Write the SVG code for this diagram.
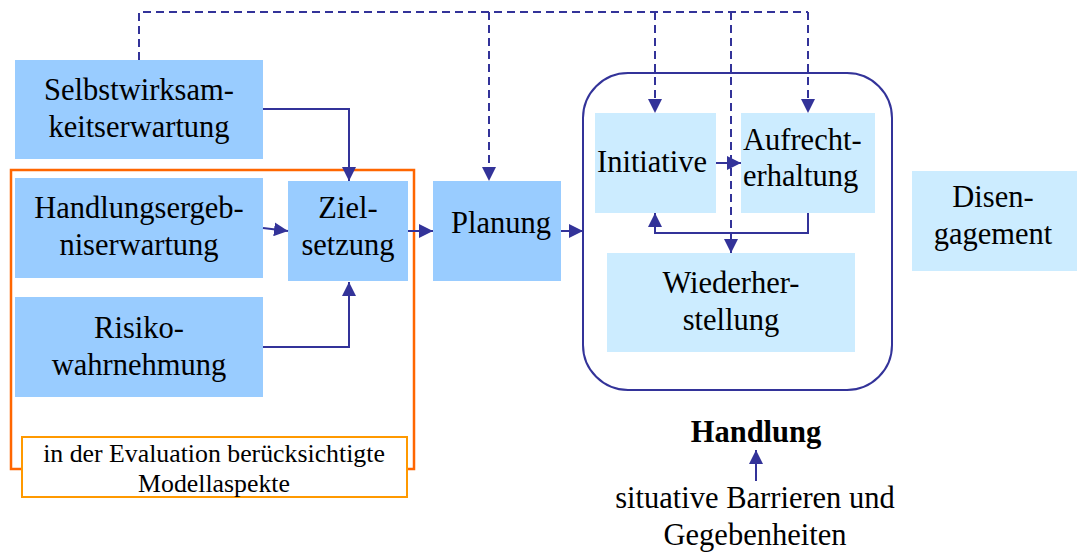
<svg xmlns="http://www.w3.org/2000/svg" width="1077" height="553" viewBox="0 0 1077 553" font-family="'Liberation Serif', 'Times New Roman', Times, 'DejaVu Serif', serif">
<style>
text{font-family:'Liberation Serif','Times New Roman',Times,'DejaVu Serif',serif}
.t{font-size:30.5px;fill:#000}
.c{text-anchor:middle}
.dark{fill:#99CCFF}
.light{fill:#CCECFF}
.ln{fill:none;stroke:#333399;stroke-width:2}
.dash{fill:none;stroke:#333399;stroke-width:2;stroke-dasharray:8,5}
</style>
<defs>
<marker id="ah" viewBox="0 0 10 10" refX="10" refY="5" markerWidth="14" markerHeight="14" markerUnits="userSpaceOnUse" orient="auto">
<path d="M0,0 L10,5 L0,10 Z" fill="#333399"/>
</marker>
</defs>
<rect width="1077" height="553" fill="#fff"/>

<g id="evaluation">
<rect x="11" y="170" width="403" height="299" fill="none" stroke="#FF6600" stroke-width="2.5"/>
</g>

<g id="selbstwirksamkeit">
<rect class="dark" x="15" y="60" width="248" height="99"/>
<text class="t c" x="139" y="100">Selbstwirksam-</text>
<text class="t c" x="139" y="137">keitserwartung</text>
</g>
<g id="handlungsergebnis">
<rect class="dark" x="15" y="178" width="248" height="100"/>
<text class="t c" x="139" y="218">Handlungsergeb-</text>
<text class="t c" x="139" y="255">niserwartung</text>
</g>
<g id="risiko">
<rect class="dark" x="15" y="297" width="248" height="100"/>
<text class="t c" x="139" y="338">Risiko-</text>
<text class="t c" x="139" y="375">wahrnehmung</text>
</g>
<g id="zielsetzung">
<rect class="dark" x="288" y="181" width="120" height="100"/>
<text class="t c" x="348" y="218">Ziel-</text>
<text class="t c" x="348" y="255">setzung</text>
</g>
<g id="planung">
<rect class="dark" x="433" y="181" width="128" height="100"/>
<text class="t c" x="501" y="233">Planung</text>
</g>

<g id="handlung">
<rect x="583" y="73" width="309" height="317" rx="45" ry="45" fill="none" stroke="#333399" stroke-width="2"/>
</g>
<g id="initiative">
<rect class="light" x="595" y="113" width="121" height="100"/>
<text class="t" x="597" y="172">Initiative</text>
</g>
<g id="aufrechterhaltung">
<rect class="light" x="741" y="113" width="134" height="100"/>
<text class="t" x="743" y="150">Aufrecht-</text>
<text class="t" x="743" y="186">erhaltung</text>
</g>
<g id="wiederherstellung">
<rect class="light" x="607" y="253" width="248" height="99"/>
<text class="t c" x="731" y="293">Wiederher-</text>
<text class="t c" x="731" y="330">stellung</text>
</g>
<g id="disengagement">
<rect class="light" x="912" y="171" width="165" height="100"/>
<text class="t c" x="993" y="207">Disen-</text>
<text class="t c" x="993" y="244">gagement</text>
</g>

<g id="label-evaluation">
<rect x="22" y="437" width="385" height="60" fill="#fff" stroke="#FF9900" stroke-width="2"/>
<text class="t c" x="214" y="462" style="font-size:25.8px">in der Evaluation berücksichtigte</text>
<text class="t c" x="214" y="492" style="font-size:25.8px">Modellaspekte</text>
</g>

<g id="label-handlung">
<text class="t c" x="756" y="442" style="font-weight:bold">Handlung</text>
</g>
<g id="barrieren">
<text class="t c" x="755" y="508">situative Barrieren und</text>
<text class="t c" x="755" y="545">Gegebenheiten</text>
</g>

<g id="connectors">
<path class="dash" d="M139,60 V12 H808"/>
<path class="dash" d="M489,12 V181" marker-end="url(#ah)"/>
<path class="dash" d="M655,12 V113" marker-end="url(#ah)"/>
<path class="dash" d="M731,12 V253" marker-end="url(#ah)"/>
<path class="dash" d="M808,12 V113" marker-end="url(#ah)"/>
<path class="ln" d="M263,109 H349 V181" marker-end="url(#ah)"/>
<path class="ln" d="M263,228 L288,231" marker-end="url(#ah)"/>
<path class="ln" d="M263,347 H349 V282" marker-end="url(#ah)"/>
<path class="ln" d="M408,231 H433" marker-end="url(#ah)"/>
<path class="ln" d="M561,231 H583" marker-end="url(#ah)"/>
<path class="ln" d="M716,163 H741" marker-end="url(#ah)"/>
<path class="ln" d="M808,213 V233 H655 V213" marker-end="url(#ah)"/>
<path class="ln" d="M756,481 V450" marker-end="url(#ah)"/>
</g>
</svg>
